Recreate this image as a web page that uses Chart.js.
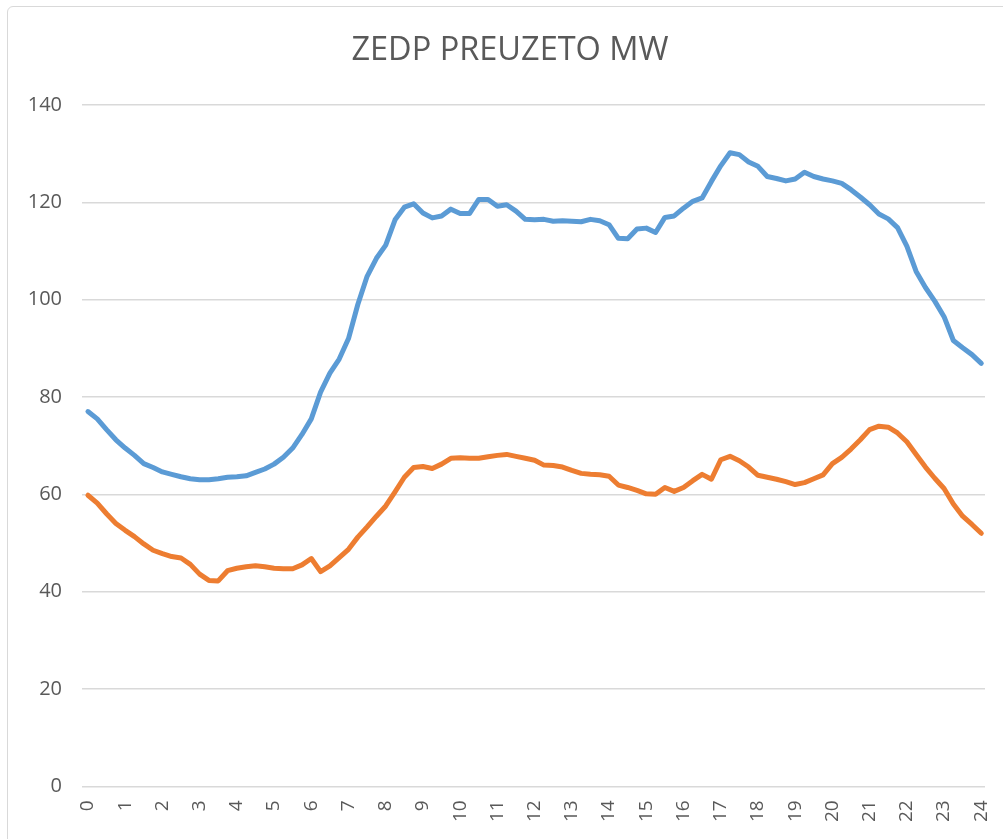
<!DOCTYPE html>
<html>
<head>
<meta charset="utf-8">
<script src="https://cdn.jsdelivr.net/npm/chart.js@4"></script>
<style>
  html, body { margin: 0; padding: 0; background: #ffffff; overflow: hidden; }
  #wrap { position: relative; width: 1003px; height: 839px; }
  #frame { position: absolute; left: 7px; top: 6px; width: 1100px; height: 1000px;
           border: 1.5px solid #d9d9d9; border-radius: 6px; box-sizing: border-box; }
  #c { position: absolute; left: 0; top: 0; }
</style>
</head>
<body>
<div id="wrap">
  <div id="frame"></div>
  <canvas id="c" width="1003" height="839"></canvas>
</div>
<script>
const chartTitle = "ZEDP PREUZETO MW";

// time of day in hours (15-minute steps)
const hours = [
  0, 0.25, 0.5, 0.75, 1, 1.25, 1.5, 1.75, 2, 2.25, 2.5, 2.75,
  3, 3.25, 3.5, 3.75, 4, 4.25, 4.5, 4.75, 5, 5.25, 5.5, 5.75,
  6, 6.25, 6.5, 6.75, 7, 7.25, 7.5, 7.75, 8, 8.25, 8.5, 8.75,
  9, 9.25, 9.5, 9.75, 10, 10.25, 10.5, 10.75, 11, 11.25, 11.5, 11.75,
  12, 12.25, 12.5, 12.75, 13, 13.25, 13.5, 13.75, 14, 14.25, 14.5, 14.75,
  15, 15.25, 15.5, 15.75, 16, 16.25, 16.5, 16.75, 17, 17.25, 17.5, 17.75,
  18, 18.25, 18.5, 18.75, 19, 19.25, 19.5, 19.75, 20, 20.25, 20.5, 20.75,
  21, 21.25, 21.5, 21.75, 22, 22.25, 22.5, 22.75, 23, 23.25, 23.5, 23.75,
  24
];

const xTickLabels = [0, 1, 2, 3, 4, 5, 6, 7, 8, 9, 10, 11, 12, 13, 14, 15, 16, 17, 18, 19, 20, 21, 22, 23, 24];
const yTickLabels = [0, 20, 40, 60, 80, 100, 120, 140];

const blueSeries = [
  77.0, 75.5, 73.3, 71.2, 69.5, 68.0, 66.3, 65.5, 64.6, 64.1, 63.6, 63.2,
  63.0, 63.0, 63.2, 63.5, 63.6, 63.8, 64.5, 65.2, 66.2, 67.6, 69.5, 72.3,
  75.5, 81.0, 84.9, 87.8, 92.0, 99.0, 104.8, 108.5, 111.2, 116.4, 119.0, 119.7,
  117.8, 116.8, 117.2, 118.6, 117.7, 117.7, 120.6, 120.6, 119.2, 119.5, 118.2, 116.5,
  116.4, 116.5, 116.1, 116.2, 116.1, 116.0, 116.5, 116.2, 115.4, 112.6, 112.5, 114.5,
  114.7, 113.8, 116.9, 117.2, 118.8, 120.2, 120.9, 124.3, 127.5, 130.2, 129.8, 128.3,
  127.4, 125.3, 124.9, 124.4, 124.8, 126.2, 125.3, 124.8, 124.4, 123.9, 122.6, 121.1,
  119.5, 117.6, 116.6, 114.8, 111.0, 105.8, 102.5, 99.7, 96.5, 91.6, 90.1, 88.7,
  86.9
];

const orangeSeries = [
  59.8, 58.2, 56.0, 54.0, 52.6, 51.3, 49.8, 48.5, 47.8, 47.2, 46.9, 45.6,
  43.6, 42.3, 42.2, 44.3, 44.8, 45.1, 45.3, 45.1, 44.8, 44.7, 44.7, 45.5,
  46.8, 44.1, 45.3, 47.0, 48.7, 51.2, 53.3, 55.5, 57.6, 60.5, 63.5, 65.5,
  65.7, 65.3, 66.2, 67.4, 67.5, 67.4, 67.4, 67.7, 68.0, 68.2, 67.8, 67.4,
  67.0, 66.0, 65.9, 65.6, 64.9, 64.3, 64.1, 64.0, 63.7, 61.9, 61.4, 60.8,
  60.1, 60.0, 61.4, 60.6, 61.4, 62.8, 64.1, 63.1, 67.1, 67.8, 66.9, 65.6,
  63.9, 63.5, 63.1, 62.6, 62.0, 62.4, 63.2, 64.0, 66.3, 67.6, 69.3, 71.2,
  73.3, 74.0, 73.8, 72.6, 70.8, 68.2, 65.6, 63.3, 61.2, 58.0, 55.5, 53.8,
  52.0
];

const textColor = "#595959";
const gridColor = "#d9d9d9";

new Chart(document.getElementById("c"), {
  type: "line",
  data: {
    labels: hours,
    datasets: [
      { data: blueSeries, borderColor: "#5B9BD5", backgroundColor: "#5B9BD5",
        borderWidth: 5, pointRadius: 0, tension: 0,
        borderJoinStyle: "round", borderCapStyle: "round" },
      { data: orangeSeries, borderColor: "#ED7D31", backgroundColor: "#ED7D31",
        borderWidth: 5, pointRadius: 0, tension: 0,
        borderJoinStyle: "round", borderCapStyle: "round" }
    ]
  },
  options: {
    responsive: false,
    animation: false,
    devicePixelRatio: 1,
    layout: { padding: { left: 35, right: 18, top: 0, bottom: 3 } },
    plugins: {
      legend: { display: false },
      tooltip: { enabled: false },
      title: {
        display: true,
        text: chartTitle,
        color: textColor,
        font: { family: "'Open Sans', sans-serif", size: 32.5, weight: "normal" },
        padding: { top: 31.5, bottom: 34.5 }
      }
    },
    scales: {
      x: {
        type: "linear",
        min: -0.16,
        max: 24.1,
        afterBuildTicks: (axis) => { axis.ticks = xTickLabels.map(v => ({ value: v })); },
        afterFit: (axis) => { axis.paddingLeft = 0; axis.paddingRight = 0; },
        grid: { display: false, drawTicks: false },
        border: { display: false },
        ticks: {
          autoSkip: false,
          minRotation: 90,
          maxRotation: 90,
          padding: 14,
          color: textColor,
          font: { family: "'Open Sans', sans-serif", size: 19 },
          callback: (v) => String(v)
        }
      },
      y: {
        min: 0,
        max: 140,
        afterBuildTicks: (axis) => { axis.ticks = yTickLabels.map(v => ({ value: v })); },
        afterFit: (axis) => {
          axis.width = 47;
          axis._computeLabelArea = () => undefined;
        },
        grid: { color: gridColor, lineWidth: 1.5, drawTicks: false },
        border: { display: false },
        ticks: {
          padding: 20,
          color: textColor,
          font: { family: "'Open Sans', sans-serif", size: 20 },
          callback: (v) => String(v)
        }
      }
    }
  }
});
</script>
</body>
</html>
